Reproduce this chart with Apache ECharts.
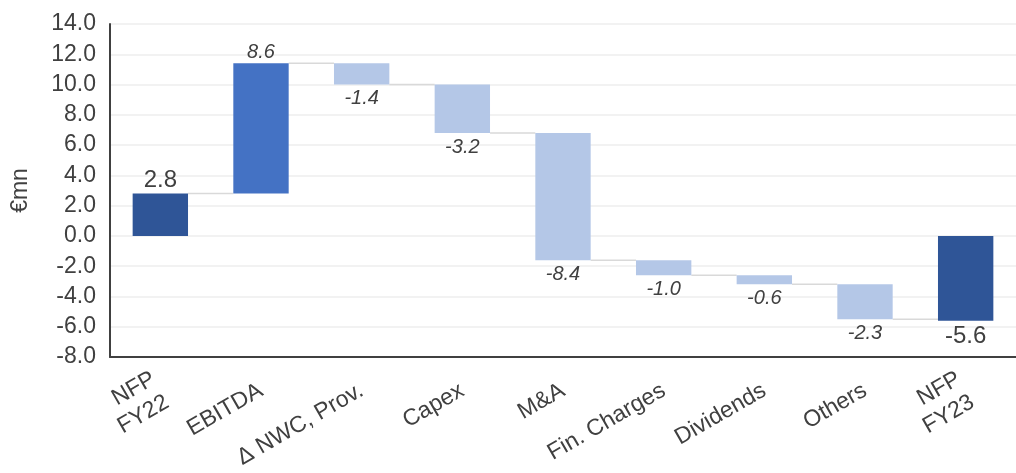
<!DOCTYPE html>
<html>
<head>
<meta charset="utf-8">
<script src="https://cdn.jsdelivr.net/npm/echarts@6/dist/echarts.min.js"></script>
<style>
  html, body { margin: 0; padding: 0; background: #fff; }
  #root { width: 1016px; height: 473px; }
</style>
</head>
<body>
<div id="root"></div>
<script>
// waterfall data (€mn)
const categories = ['NFP\nFY22', 'EBITDA', 'Δ NWC, Prov.', 'Capex', 'M&A', 'Fin. Charges', 'Dividends', 'Others', 'NFP\nFY23'];
const deltas = [2.8, 8.6, -1.4, -3.2, -8.4, -1.0, -0.6, -2.3, -5.6];
const isTotal = [true, false, false, false, false, false, false, false, true];
const yTicks = { min: -8, max: 14, interval: 2 };

// build bar ranges [index, low, high, value]
const bars = [];
let running = 0;
deltas.forEach(function (d, i) {
  let from, to;
  if (isTotal[i]) { from = 0; to = d; running = d; }
  else { from = running; to = running + d; running = to; }
  bars.push([i, Math.min(from, to), Math.max(from, to), d]);
});
// connectors at end level of each bar
const links = [];
running = 0;
deltas.forEach(function (d, i) {
  running = isTotal[i] ? d : running + d;
  if (i < deltas.length - 1) links.push([i, running]);
});

function barColor(i, v) {
  if (isTotal[i]) return '#2F5597';
  return v >= 0 ? '#4472C4' : '#B4C7E7';
}

const chart = echarts.init(document.getElementById('root'));
chart.setOption({
  backgroundColor: '#ffffff',
  animation: false,
  grid: { left: 110, right: 0, top: 24, bottom: 116 },
  xAxis: {
    type: 'category',
    data: categories,
    axisLine: { onZero: false, lineStyle: { color: '#404040', width: 2 } },
    axisTick: { show: false },
    axisLabel: {
      interval: 0,
      rotate: 30,
      margin: 32,
      color: '#404040',
      fontFamily: 'Liberation Sans',
      fontSize: 23,
      lineHeight: 27,
      align: 'right'
    }
  },
  yAxis: {
    type: 'value',
    min: yTicks.min,
    max: yTicks.max,
    interval: yTicks.interval,
    name: '€mn',
    nameLocation: 'middle',
    nameGap: 78,
    nameRotate: 90,
    nameTextStyle: { color: '#404040', fontFamily: 'Liberation Sans', fontSize: 23 },
    axisLine: { show: true, lineStyle: { color: '#404040', width: 2 } },
    axisTick: { show: false },
    axisLabel: {
      color: '#404040',
      fontFamily: 'Liberation Sans',
      fontSize: 23,
      margin: 14,
      formatter: function (v) { return v.toFixed(1); }
    },
    splitLine: { lineStyle: { color: '#EEEEEE', width: 1.5 } }
  },
  series: [
    {
      type: 'custom',
      data: links,
      z: 1,
      renderItem: function (params, api) {
        const i = api.value(0);
        const w = api.size([1, 0])[0] * 0.55;
        const p1 = api.coord([i, api.value(1)]);
        const p2 = api.coord([i + 1, api.value(1)]);
        return {
          type: 'line',
          shape: { x1: p1[0] + w / 2, y1: p1[1], x2: p2[0] - w / 2, y2: p2[1] },
          style: { stroke: '#D9D9D9', lineWidth: 1.5 }
        };
      }
    },
    {
      type: 'custom',
      data: bars,
      z: 2,
      renderItem: function (params, api) {
        const i = api.value(0);
        const lo = api.coord([i, api.value(1)]);
        const hi = api.coord([i, api.value(2)]);
        const v = api.value(3);
        const w = api.size([1, 0])[0] * 0.55;
        const total = isTotal[i];
        const up = v >= 0;
        return {
          type: 'group',
          children: [
            {
              type: 'rect',
              shape: { x: lo[0] - w / 2, y: hi[1], width: w, height: lo[1] - hi[1] },
              style: { fill: barColor(i, v) }
            },
            {
              type: 'text',
              x: lo[0],
              y: up ? hi[1] - 1 : lo[1] + 4,
              style: {
                text: v.toFixed(1),
                fill: '#404040',
                fontFamily: 'Liberation Sans',
                fontSize: total ? 24 : 20,
                fontStyle: total ? 'normal' : 'italic',
                align: 'center',
                verticalAlign: up ? 'bottom' : 'top'
              }
            }
          ]
        };
      }
    }
  ]
});
</script>
</body>
</html>
